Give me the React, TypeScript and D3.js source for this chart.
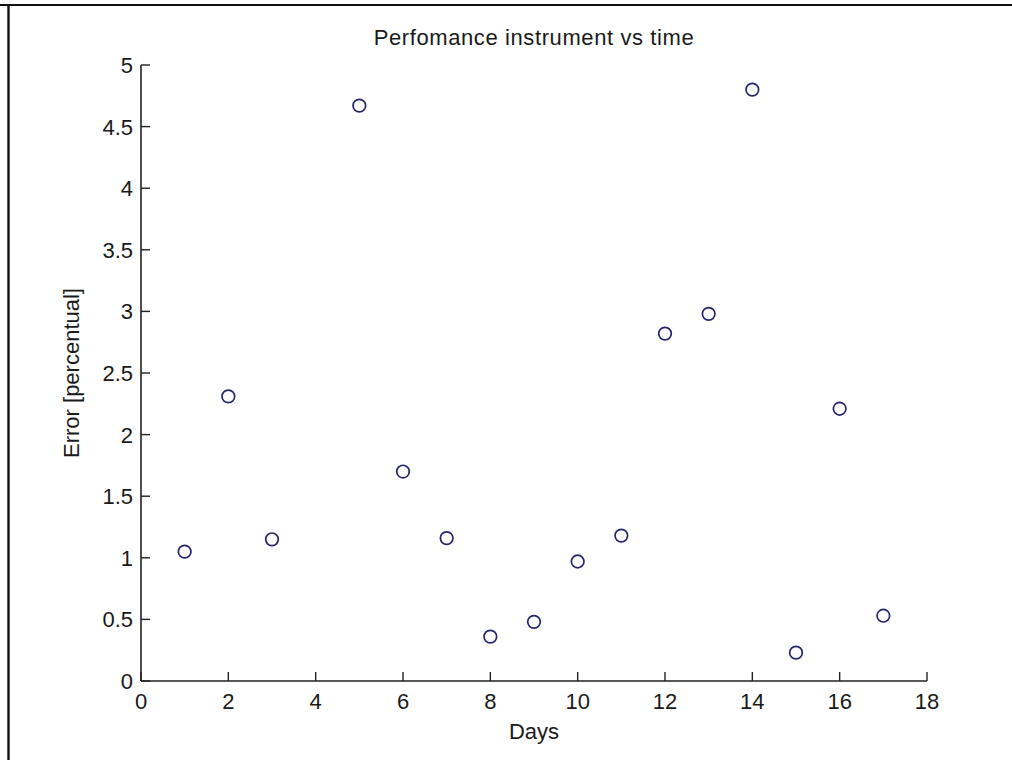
import React from "react";
import * as d3 from "d3";

const days = [1, 2, 3, 5, 6, 7, 8, 9, 10, 11, 12, 13, 14, 15, 16, 17];
const errors = [1.05, 2.31, 1.15, 4.67, 1.70, 1.16, 0.36, 0.48, 0.97, 1.18, 2.82, 2.98, 4.80, 0.23, 2.21, 0.53];
const xTicks = [0, 2, 4, 6, 8, 10, 12, 14, 16, 18];
const yTicks = [0, 0.5, 1, 1.5, 2, 2.5, 3, 3.5, 4, 4.5, 5];
const title = "Perfomance instrument vs time";
const xLabel = "Days";
const yLabel = "Error [percentual]";

export default function App() {
  const W = 1012, H = 760;
  const left = 141, right = 927, top = 65, bottom = 681;
  const x = d3.scaleLinear().domain([0, 18]).range([left, right]);
  const y = d3.scaleLinear().domain([0, 5]).range([bottom, top]);
  const font = "'Liberation Sans', Arial, sans-serif";
  const tickLen = 9;
  const axisColor = "#222";
  const textColor = "#1a1a1a";
  const fs = 22;
  return (
    <svg width={W} height={H} style={{ position: "absolute", left: 0, top: 0, background: "#fff" }} fontFamily={font}>
      <rect x={0} y={0} width={W} height={H} fill="#fff" />
      {/* outer frame */}
      <line x1={0} x2={W} y1={5} y2={5} stroke="#111" strokeWidth={2.2} />
      <line x1={8.5} x2={8.5} y1={5} y2={H} stroke="#111" strokeWidth={2.4} />
      {/* title */}
      <text x={(left + right) / 2} y={45} textAnchor="middle" fontSize={fs} letterSpacing={0.6} fill={textColor}>{title}</text>
      {/* axes */}
      <line x1={left} x2={right} y1={bottom} y2={bottom} stroke={axisColor} strokeWidth={1.6} />
      <line x1={left} x2={left} y1={top} y2={bottom} stroke={axisColor} strokeWidth={1.6} />
      {xTicks.map((t) => (
        <g key={"x" + t}>
          <line x1={x(t)} x2={x(t)} y1={bottom} y2={bottom - tickLen} stroke={axisColor} strokeWidth={1.4} />
          <text x={x(t)} y={709} textAnchor="middle" fontSize={fs} fill={textColor}>{t}</text>
        </g>
      ))}
      {yTicks.map((t) => (
        <g key={"y" + t}>
          <line x1={left} x2={left + tickLen} y1={y(t)} y2={y(t)} stroke={axisColor} strokeWidth={1.4} />
          <text x={133} y={y(t) + 8} textAnchor="end" fontSize={fs} fill={textColor}>{t}</text>
        </g>
      ))}
      <text x={(left + right) / 2} y={739} textAnchor="middle" fontSize={fs} fill={textColor}>{xLabel}</text>
      <text transform={`translate(79, ${(top + bottom) / 2}) rotate(-90)`} textAnchor="middle" fontSize={fs} fill={textColor}>{yLabel}</text>
      {days.map((d, i) => (
        <circle key={d} cx={x(d)} cy={y(errors[i])} r={6.3} fill="none" stroke="#25256e" strokeWidth={1.7} />
      ))}
    </svg>
  );
}
